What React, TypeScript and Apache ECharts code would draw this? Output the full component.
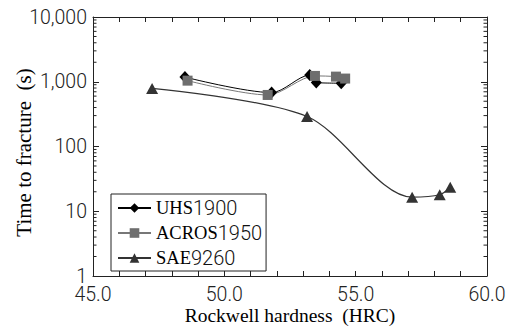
import React, { useEffect, useRef } from "react";
import * as echarts from "echarts";

const seriesNames = ["UHS1900", "ACROS1950", "SAE9260"];
const uhsX = [48.5, 51.8, 53.25, 53.5, 54.45];
const uhsY = [1180, 680, 1270, 970, 950];
const acrosX = [48.6, 51.65, 53.45, 54.25, 54.6];
const acrosY = [1040, 625, 1230, 1200, 1120];
const saeX = [47.25, 53.15, 57.15, 58.2, 58.6];
const saeY = [790, 290, 16.5, 18, 23.5];
const yMinorFactors = [2, 3, 4, 5, 6, 7, 8, 9];
const yDecades = [1, 10, 100, 1000];

const SANS = "Roboto, 'Liberation Sans', sans-serif";
const SERIF = "'Liberation Serif', serif";

const pairs = (xs: number[], ys: number[]) => xs.map((x, i) => [x, ys[i]]);

export default function App() {
  const ref = useRef<HTMLDivElement>(null);
  useEffect(() => {
    if (!ref.current) return;
    const chart = echarts.init(ref.current, null, { renderer: "svg" });
    const axisColor = "#222";
    const xBase = {
      type: "value",
      min: 45,
      max: 60,
      interval: 5,
      axisLine: { show: true, lineStyle: { color: axisColor, width: 1 } },
      axisTick: { show: true, inside: true, length: 5, lineStyle: { color: axisColor } },
      minorTick: { show: true, splitNumber: 5, length: 5, lineStyle: { color: axisColor } },
      splitLine: { show: false },
    };
    const yBase = {
      type: "log",
      logBase: 10,
      min: 1,
      max: 10000,
      axisLine: { show: true, lineStyle: { color: axisColor, width: 1 } },
      axisTick: { show: true, inside: true, length: 6, lineStyle: { color: axisColor } },
      splitLine: { show: false },
    };
    const labelStyle = {
      fontFamily: SANS,
      fontWeight: 300,
      fontSize: 19.5,
      lineHeight: 14,
      color: "#222",
    };
    const option: any = {
      animation: false,
      backgroundColor: "#fff",
      grid: { left: 93, right: 27, top: 17, bottom: 53, containLabel: false, outerBoundsMode: "none" },
      legend: {
        orient: "vertical",
        left: 111,
        top: 194,
        backgroundColor: "#fff",
        borderColor: "#222",
        borderWidth: 1,
        borderRadius: 0,
        padding: [4, 4, 3, 6],
        itemWidth: 33,
        itemHeight: 12,
        itemGap: 5,
        data: seriesNames,
        formatter: (name: string) => {
          const m = name.match(/^([A-Z]+)(\d+)$/);
          return m ? `{a|${m[1]}}{b|${m[2]}}` : name;
        },
        textStyle: {
          fontFamily: SERIF,
          fontSize: 18.5,
          color: "#000",
          lineHeight: 18,
          rich: {
            a: { fontFamily: SERIF, fontSize: 18.5, color: "#000", lineHeight: 18 },
            b: { fontFamily: SANS, fontWeight: 300, fontSize: 20, color: "#111", lineHeight: 18 },
          },
        },
      },
      xAxis: [
        {
          ...xBase,
          position: "bottom",
          axisLabel: {
            show: true,
            margin: 11,
            ...labelStyle,
            formatter: (v: number) => v.toFixed(1),
          },
          name: "Rockwell hardness  (HRC)",
          nameLocation: "middle",
          nameGap: 29,
          nameMoveOverlap: false,
          nameTextStyle: { fontFamily: SERIF, fontSize: 19.5, lineHeight: 20, color: "#000" },
        },
        { ...xBase, position: "top", axisLabel: { show: false } },
      ],
      yAxis: [
        {
          ...yBase,
          position: "left",
          axisLabel: {
            show: true,
            margin: 6,
            ...labelStyle,
            formatter: (v: number) => Math.round(v).toLocaleString("en-US"),
          },
          name: "Time to fracture  (s)",
          nameLocation: "middle",
          nameRotate: 90,
          nameGap: 59,
          nameMoveOverlap: false,
          nameTextStyle: { fontFamily: SERIF, fontSize: 21, lineHeight: 21, color: "#000", padding: [0, 12, 0, 0] },
        },
        { ...yBase, position: "right", axisLabel: { show: false } },
      ],
      series: [
        {
          name: seriesNames[0],
          type: "line",
          data: pairs(uhsX, uhsY),
          smooth: 0.3,
          symbol: "diamond",
          symbolSize: [11, 12],
          itemStyle: { color: "#000" },
          lineStyle: { color: "#000", width: 1 },
        },
        {
          name: seriesNames[1],
          type: "line",
          data: pairs(acrosX, acrosY),
          smooth: 0.3,
          symbol: "rect",
          symbolSize: 10,
          itemStyle: { color: "#6e6e6e" },
          lineStyle: { color: "#777", width: 1 },
        },
        {
          name: seriesNames[2],
          type: "line",
          data: pairs(saeX, saeY),
          smooth: 0.3,
          symbol: "triangle",
          symbolSize: [12, 11],
          itemStyle: { color: "#333" },
          lineStyle: { color: "#333", width: 1.2 },
        },
      ],
    };
    chart.setOption(option);

    const xL = chart.convertToPixel({ xAxisIndex: 0 }, 45) as number;
    const xR = chart.convertToPixel({ xAxisIndex: 0 }, 60) as number;
    const lines: any[] = [];
    yDecades.forEach((d) => {
      yMinorFactors.forEach((k) => {
        const y = chart.convertToPixel({ yAxisIndex: 0 }, k * d) as number;
        lines.push({ type: "line", shape: { x1: xL, y1: y, x2: xL + 3.5, y2: y }, style: { stroke: axisColor, lineWidth: 1 }, z: 1 });
        lines.push({ type: "line", shape: { x1: xR - 3.5, y1: y, x2: xR, y2: y }, style: { stroke: axisColor, lineWidth: 1 }, z: 1 });
      });
    });
    chart.setOption({ graphic: lines });

    return () => chart.dispose();
  }, []);
  return <div ref={ref} style={{ position: "fixed", left: 0, top: 0, width: 514, height: 329 }} />;
}
